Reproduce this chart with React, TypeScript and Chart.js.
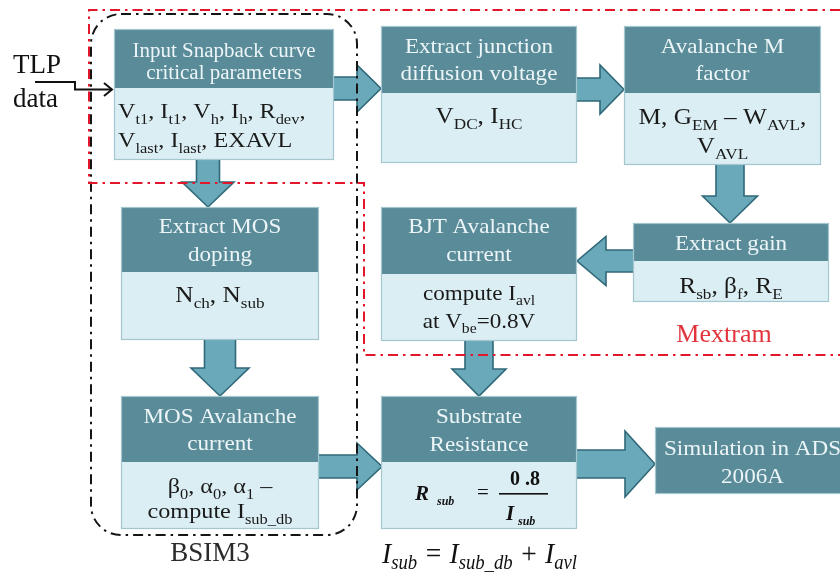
import React, { useEffect, useRef } from "react";
import { Chart, registerables } from "chart.js";

Chart.register(...registerables);

// ---------- content ----------
const boxTitles: string[][] = [
  ["Input Snapback curve", "critical parameters"],
  ["Extract junction", "diffusion voltage"],
  ["Avalanche M", "factor"],
  ["Extract MOS", "doping"],
  ["BJT Avalanche", "current"],
  ["Extract gain"],
  ["MOS Avalanche", "current"],
  ["Substrate", "Resistance"],
  ["Simulation in ADS", "2006A"],
];
const boxParams: string[][] = [
  ["V_{t1}, I_{t1}, V_{h}, I_{h}, R_{dev},", "V_{last}, I_{last}, EXAVL"],
  ["V_{DC}, I_{HC}"],
  ["M, G_{EM} \u2013 W_{AVL},", "V_{AVL}"],
  ["N_{ch}, N_{sub}"],
  ["compute I_{avl}", "at V_{be}=0.8V"],
  ["R_{sb}, \u03b2_{f}, R_{E}"],
  ["\u03b2_{0}, \u03b1_{0}, \u03b1_{1} \u2013", "compute I_{sub_db}"],
  [],
  [],
];
const flowLinks: number[][] = [
  [0, 1], [1, 2], [2, 5], [5, 4], [0, 3], [3, 6], [6, 7], [4, 7], [7, 8],
];
const inputLabel = ["TLP", "data"];
const groupLabels = ["BSIM3", "Mextram"];
const rsubFormula = { lhs: "R", lhsSub: "sub", num: "0 .8", den: "I", denSub: "sub" };
const isubFormula = "I_{sub} = I_{sub_db} + I_{avl}";

// ---------- layout (chart units: x 0..840, y 0..572 top-down) ----------
const boxLayout = [
  { l: 114, t: 29, h: 88, r: 334, b: 160, tb: [57, 79], ts: 20, bb: [118, 147], bs: 22, align: "left" },
  { l: 381, t: 26, h: 93, r: 577, b: 163, tb: [53, 80], ts: 22, bb: [123], bs: 23, align: "center" },
  { l: 624, t: 26, h: 93, r: 821, b: 165, tb: [53, 80], ts: 22, bb: [124, 153], bs: 23, align: "center" },
  { l: 121, t: 207, h: 272, r: 319, b: 340, tb: [233, 261], ts: 22, bb: [302], bs: 23, align: "center" },
  { l: 381, t: 207, h: 274, r: 577, b: 341, tb: [233, 261], ts: 22, bb: [300, 328], bs: 21, align: "center" },
  { l: 633, t: 223, h: 261, r: 829, b: 302, tb: [250], ts: 22, bb: [293], bs: 23, align: "center" },
  { l: 121, t: 396, h: 462, r: 319, b: 529, tb: [423, 450], ts: 22, bb: [493, 518], bs: 22, align: "center" },
  { l: 381, t: 396, h: 462, r: 577, b: 529, tb: [423, 451], ts: 22, bb: [], bs: 22, align: "center" },
  { l: 655, t: 427, h: 494, r: 850, b: 494, tb: [455, 483], ts: 22, bb: [], bs: 22, align: "center" },
];
const arrowLayout = [
  { a: [331, 88.5], z: [381, 88.5], sw: 23, hw: 47, hl: 24 },
  { a: [574, 89.5], z: [624, 89.5], sw: 23, hw: 49, hl: 24 },
  { a: [730, 162], z: [730, 223], sw: 28, hw: 55, hl: 27 },
  { a: [636, 261], z: [577, 261], sw: 22, hw: 49, hl: 29 },
  { a: [208, 157], z: [208, 207], sw: 23, hw: 52, hl: 25 },
  { a: [220, 337], z: [220, 396], sw: 31, hw: 58, hl: 28 },
  { a: [316, 466.5], z: [382, 466.5], sw: 23, hw: 47, hl: 25 },
  { a: [479, 338], z: [479, 396], sw: 28, hw: 54, hl: 27 },
  { a: [574, 464], z: [655, 464], sw: 28, hw: 66, hl: 30 },
];
const redPath = [[840, 10], [89, 10], [89, 183], [364, 183], [364, 355], [840, 355]];
const blackRect = { l: 91, t: 14, r: 357, b: 535, rad: 30 };

const SERIF = "'Liberation Serif', 'Times New Roman', serif";
const HEAD = "#5a8b98";
const BODY = "#dbeef3";
const EDGE = "#a4c6cf";
const ARROW = "#6aa9ba";
const ARROW_EDGE = "#2f6878";

function parseRich(s: string) {
  const out: { t: string; sub: boolean }[] = [];
  const re = /_\{([^}]*)\}|([^_]+)/g;
  let m: RegExpExecArray | null;
  while ((m = re.exec(s))) {
    if (m[1] !== undefined) out.push({ t: m[1], sub: true });
    else out.push({ t: m[2], sub: false });
  }
  return out;
}

function drawRich(ctx: CanvasRenderingContext2D, s: string, x: number, base: number, o: any) {
  const parts = parseRich(s);
  const font = (sz: number) => `${o.style || "normal"} ${o.weight || "normal"} ${sz}px ${o.family || SERIF}`;
  const subSize = o.size * (o.subScale ?? 0.63);
  let w = 0;
  const ws = parts.map((p) => {
    ctx.font = font(p.sub ? subSize : o.size);
    const mw = ctx.measureText(p.t).width;
    w += mw;
    return mw;
  });
  let sx = o.scaleX ?? 1;
  if (o.targetWidth) sx = o.targetWidth / w;
  const start = o.align === "left" ? x : x - (w * sx) / 2;
  ctx.save();
  ctx.fillStyle = o.color;
  ctx.textBaseline = "alphabetic";
  ctx.textAlign = "left";
  ctx.translate(start, base);
  ctx.scale(sx, 1);
  let cx = 0;
  parts.forEach((p, i) => {
    ctx.font = font(p.sub ? subSize : o.size);
    ctx.fillText(p.t, cx, p.sub ? o.size * (o.subDrop ?? 0.24) : 0);
    cx += ws[i];
  });
  ctx.restore();
}

const flowPlugin = {
  id: "flow",
  afterDatasetsDraw(chart: any) {
    const ctx: CanvasRenderingContext2D = chart.ctx;
    const xs = chart.scales.x;
    const ys = chart.scales.y;
    const X = (v: number) => xs.getPixelForValue(v);
    const Y = (v: number) => ys.getPixelForValue(v);

    ctx.save();
    // arrows
    flowLinks.forEach((lk, i) => {
      const a = arrowLayout[i];
      const x1 = X(a.a[0]), y1 = Y(a.a[1]), x2 = X(a.z[0]), y2 = Y(a.z[1]);
      const dx = x2 - x1, dy = y2 - y1, L = Math.hypot(dx, dy);
      const ux = dx / L, uy = dy / L, nx = -uy, ny = ux;
      const bx = x2 - ux * a.hl, by = y2 - uy * a.hl;
      const s = a.sw / 2, h = a.hw / 2;
      ctx.beginPath();
      ctx.moveTo(x1 + nx * s, y1 + ny * s);
      ctx.lineTo(bx + nx * s, by + ny * s);
      ctx.lineTo(bx + nx * h, by + ny * h);
      ctx.lineTo(x2, y2);
      ctx.lineTo(bx - nx * h, by - ny * h);
      ctx.lineTo(bx - nx * s, by - ny * s);
      ctx.lineTo(x1 - nx * s, y1 - ny * s);
      ctx.closePath();
      ctx.fillStyle = ARROW;
      ctx.fill();
      ctx.lineWidth = 1.6;
      ctx.strokeStyle = ARROW_EDGE;
      ctx.lineJoin = "miter";
      ctx.stroke();
    });

    // boxes
    boxTitles.forEach((title, i) => {
      const b = boxLayout[i];
      const l = X(b.l), r = X(b.r), t = Y(b.t), h = Y(b.h), bt = Y(b.b);
      if (bt > h) {
        ctx.fillStyle = BODY;
        ctx.fillRect(l, h, r - l, bt - h);
      }
      ctx.fillStyle = HEAD;
      ctx.fillRect(l, t, r - l, h - t);
      ctx.strokeStyle = EDGE;
      ctx.lineWidth = 1.2;
      ctx.strokeRect(l + 0.5, t + 0.5, r - l - 1, bt - t - 1);
      const cx = (l + r) / 2;
      title.forEach((line, j) => {
        drawRich(ctx, line, cx, Y(b.tb[j]), { size: b.ts, color: "#ecf5f7", align: "center", scaleX: 1.05 });
      });
      boxParams[i].forEach((line, j) => {
        const x = b.align === "left" ? l + 4 : cx;
        drawRich(ctx, line, x, Y(b.bb[j]), {
          size: b.bs, color: "#1a1a1a", align: b.align, scaleX: 1.1, subScale: 0.68, subDrop: 0.25,
        });
      });
    });

    // Rsub formula in substrate box
    ctx.fillStyle = "#111";
    ctx.textBaseline = "alphabetic";
    ctx.textAlign = "left";
    ctx.font = `italic bold 21px ${SERIF}`;
    ctx.fillText(rsubFormula.lhs, X(415), Y(500));
    ctx.font = `italic bold 12px ${SERIF}`;
    ctx.fillText(rsubFormula.lhsSub, X(437), Y(505));
    ctx.font = `normal 21px ${SERIF}`;
    ctx.fillText("=", X(477), Y(499));
    ctx.font = `bold 20px ${SERIF}`;
    ctx.textAlign = "center";
    ctx.fillText(rsubFormula.num, X(525), Y(485));
    ctx.fillRect(X(499), Y(493), X(548) - X(499), 1.6);
    ctx.textAlign = "left";
    ctx.font = `italic bold 21px ${SERIF}`;
    ctx.fillText(rsubFormula.den, X(506), Y(520));
    ctx.font = `italic bold 12px ${SERIF}`;
    ctx.fillText(rsubFormula.denSub, X(518), Y(525));

    // Isub formula
    drawRich(ctx, isubFormula, X(479.5), Y(563), {
      size: 30, style: "italic", color: "#111", align: "center", targetWidth: X(577) - X(382), subScale: 0.68, subDrop: 0.2,
    });

    // TLP data input
    ctx.fillStyle = "#111";
    ctx.font = `normal 27px ${SERIF}`;
    ctx.textAlign = "left";
    ctx.fillText(inputLabel[0], X(13), Y(73));
    ctx.fillText(inputLabel[1], X(13), Y(107));
    ctx.strokeStyle = "#111";
    ctx.lineWidth = 2;
    ctx.setLineDash([]);
    ctx.beginPath();
    ctx.moveTo(X(35), Y(82));
    ctx.lineTo(X(75), Y(82));
    ctx.lineTo(X(75), Y(89.5));
    ctx.lineTo(X(112), Y(89.5));
    ctx.stroke();
    ctx.beginPath();
    ctx.moveTo(X(104), Y(83));
    ctx.lineTo(X(112), Y(89.5));
    ctx.lineTo(X(104), Y(96));
    ctx.stroke();

    // group labels
    ctx.font = `normal 27px ${SERIF}`;
    ctx.textAlign = "center";
    ctx.fillStyle = "#2a2a2a";
    ctx.fillText(groupLabels[0], X(210), Y(561));
    ctx.font = `normal 26px ${SERIF}`;
    ctx.fillStyle = "#e2343c";
    ctx.fillText(groupLabels[1], X(724), Y(342));

    // BSIM3 black dash-dot rounded rect
    ctx.strokeStyle = "#151515";
    ctx.lineWidth = 2;
    ctx.setLineDash([10, 5, 2.5, 5]);
    const br = blackRect;
    ctx.beginPath();
    if ((ctx as any).roundRect) {
      (ctx as any).roundRect(X(br.l), Y(br.t), X(br.r) - X(br.l), Y(br.b) - Y(br.t), br.rad);
    } else {
      ctx.rect(X(br.l), Y(br.t), X(br.r) - X(br.l), Y(br.b) - Y(br.t));
    }
    ctx.stroke();

    // Mextram red dash-dot outline
    ctx.strokeStyle = "#e3172c";
    ctx.lineWidth = 2;
    ctx.setLineDash([10, 5, 2.5, 5]);
    ctx.beginPath();
    redPath.forEach((p, i) => {
      if (i === 0) ctx.moveTo(X(p[0]), Y(p[1]));
      else ctx.lineTo(X(p[0]), Y(p[1]));
    });
    ctx.stroke();
    ctx.setLineDash([]);
    ctx.restore();
  },
};

export default function App() {
  const ref = useRef<HTMLCanvasElement | null>(null);
  useEffect(() => {
    if (!ref.current) return;
    const chart = new Chart(ref.current, {
      type: "scatter",
      data: { datasets: [{ data: [], pointRadius: 0 }] },
      options: {
        responsive: false,
        animation: false,
        devicePixelRatio: 1,
        layout: { padding: 0 },
        scales: {
          x: { type: "linear", min: 0, max: 840, display: false },
          y: { type: "linear", min: 0, max: 572, reverse: true, display: false },
        },
        plugins: { legend: { display: false }, tooltip: { enabled: false } },
      },
      plugins: [flowPlugin],
    } as any);
    return () => chart.destroy();
  }, []);
  return (
    <div style={{ position: "fixed", left: 0, top: 0, width: 840, height: 572, background: "#fff" }}>
      <canvas ref={ref} width={840} height={572} style={{ width: 840, height: 572, display: "block" }} />
    </div>
  );
}
